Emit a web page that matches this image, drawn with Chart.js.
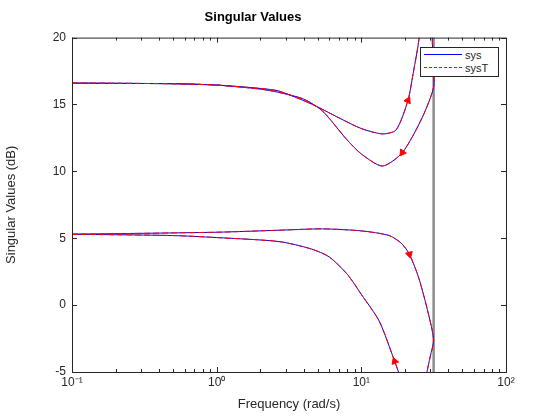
<!DOCTYPE html>
<html><head><meta charset="utf-8">
<script src="https://cdn.jsdelivr.net/npm/chart.js@4.4.0/dist/chart.umd.min.js"></script>
<style>
body{margin:0;background:#fff;font-family:"Liberation Sans",Arial,sans-serif}
#wrap{position:relative;width:560px;height:420px}
#legend{position:absolute;left:420px;top:47px;width:77px;border:1px solid #262626;background:#fff;font-size:11px;color:#262626;padding:1px 0}
#legend .r{height:13px;line-height:13px;white-space:nowrap}
#legend .l{display:inline-block;width:38px;margin:0 3px 3px 3px;vertical-align:middle;border-top-width:1.3px;border-top-style:solid;border-top-color:blue}
</style></head><body>
<div id="wrap"><canvas id="c" width="560" height="420"></canvas>
<div id="legend"><div class="r"><span class="l"></span>sys</div><div class="r"><span class="l" style="border-top-style:dashed;border-top-color:red"></span>sysT</div></div></div>
<script>
// singular value branches (freq rad/s, dB)
const upperA = [[0.1,16.6],[0.5,16.55],[1,16.45],[2,16.2],[2.7,16.0],[4.6,15.0],[7,14.0],[10,13.2],[14,12.8],[17.4,13.1],[21,15.3],[22.8,17.3],[24.5,19.2],[25.5,20.5]];
const upperB = [[0.1,16.6],[0.5,16.55],[1,16.45],[2,16.15],[2.7,15.9],[4,15.4],[5.4,14.5],[7.9,12.4],[10,11.3],[14,10.4],[19.2,11.4],[26.3,14.0],[31.6,16.3],[31.3,18],[30.8,20.5]];
const lowerC = [[0.1,5.3],[1,5.45],[2.7,5.6],[5.4,5.7],[10,5.55],[15.6,5.2],[19,4.6],[21.5,3.8],[25,2.0],[29,-0.6],[31.6,-2.6],[30,-3.8],[28,-5.3]];
const lowerD = [[0.1,5.3],[0.5,5.2],[1,5.05],[2.7,4.75],[4.5,4.2],[6,3.6],[8,2.3],[10,0.8],[13.3,-1.2],[17,-4.2],[18.5,-5.3]];
const arrows = [[21,15.3,25],[19.2,11.4,215],[21.5,3.8,165],[17,-4.2,-20]];
const nyquist = 31.6;
const xTicks = [0.1,1,10,100];
const xTickLabels = ['10⁻¹','10⁰','10¹','10²'];

const pts = a => a.map(p => ({x:p[0], y:p[1]}));
const line = (d, col, dash) => ({data:pts(d), showLine:true, borderColor:col, borderWidth:1, borderDash:dash||[], pointRadius:0, tension:0.25, fill:false});
const font = {family:'"Liberation Sans",Arial,sans-serif', size:12};

const frame = {
  id:'frame',
  afterDraw(ch){
    const c = ch.ctx, a = ch.chartArea, xs = ch.scales.x, ys = ch.scales.y;
    c.save(); c.strokeStyle = '#262626'; c.lineWidth = 1;
    c.strokeRect(a.left+0.5, a.top+0.5, a.right-a.left, a.bottom-a.top);
    c.beginPath();
    for (let d=-1; d<2; d++) for (let m=1; m<10; m++) {
      const v = m*Math.pow(10,d), px = Math.round(xs.getPixelForValue(v))+0.5, L = m==1?5:3;
      c.moveTo(px,a.bottom); c.lineTo(px,a.bottom-L); c.moveTo(px,a.top); c.lineTo(px,a.top+L);
    }
    for (let v=-5; v<=20; v+=5) {
      const py = Math.round(ys.getPixelForValue(v))+0.5;
      c.moveTo(a.left,py); c.lineTo(a.left+5,py); c.moveTo(a.right,py); c.lineTo(a.right-5,py);
    }
    c.stroke(); c.restore();
  }
};

new Chart(document.getElementById('c'), {
  type:'scatter',
  data:{datasets:[
    {data:arrows.map(p=>({x:p[0],y:p[1]})), pointStyle:'triangle', pointRadius:4, pointRotation:arrows.map(p=>p[2]), backgroundColor:'red', borderColor:'red', borderWidth:1, showLine:false},
    line(upperA,'red',[6,3]), line(upperB,'red',[6,3]), line(lowerC,'red',[6,3]), line(lowerD,'red',[6,3]),
    line(upperA,'blue'), line(upperB,'blue'), line(lowerC,'blue'), line(lowerD,'blue'),
    {data:[{x:nyquist,y:-5},{x:nyquist,y:20}], showLine:true, borderColor:'#8c8c8c', borderWidth:2.5, pointRadius:0}
  ]},
  options:{
    responsive:false, animation:false,
    layout:{padding:{left:0,right:54,top:0,bottom:8}},
    plugins:{legend:{display:false}, tooltip:{enabled:false},
      title:{display:true, text:'Singular Values', color:'#000', font:{...font, size:13, weight:'bold'}, padding:{top:10,bottom:12}}},
    scales:{
      x:{type:'logarithmic', min:0.1, max:100,
        afterBuildTicks:s=>{s.ticks = xTicks.map(v=>({value:v}));},
        ticks:{callback:(v,i)=>xTickLabels[i], color:'#262626', font:font, maxRotation:0, padding:3},
        grid:{display:false, drawTicks:false}, border:{display:false},
        title:{display:true, text:'Frequency (rad/s)', color:'#262626', font:{...font,size:13}, padding:{top:4,bottom:0}}},
      y:{min:-5, max:20,
        afterFit:s=>{s.width=72;},
        ticks:{stepSize:5, color:'#262626', font:font, padding:6},
        grid:{display:false, drawTicks:false}, border:{display:false},
        title:{display:true, text:'Singular Values (dB)', color:'#262626', font:{...font,size:13}, padding:{bottom:6}}}
    }
  },
  plugins:[frame]
});
</script></body></html>
